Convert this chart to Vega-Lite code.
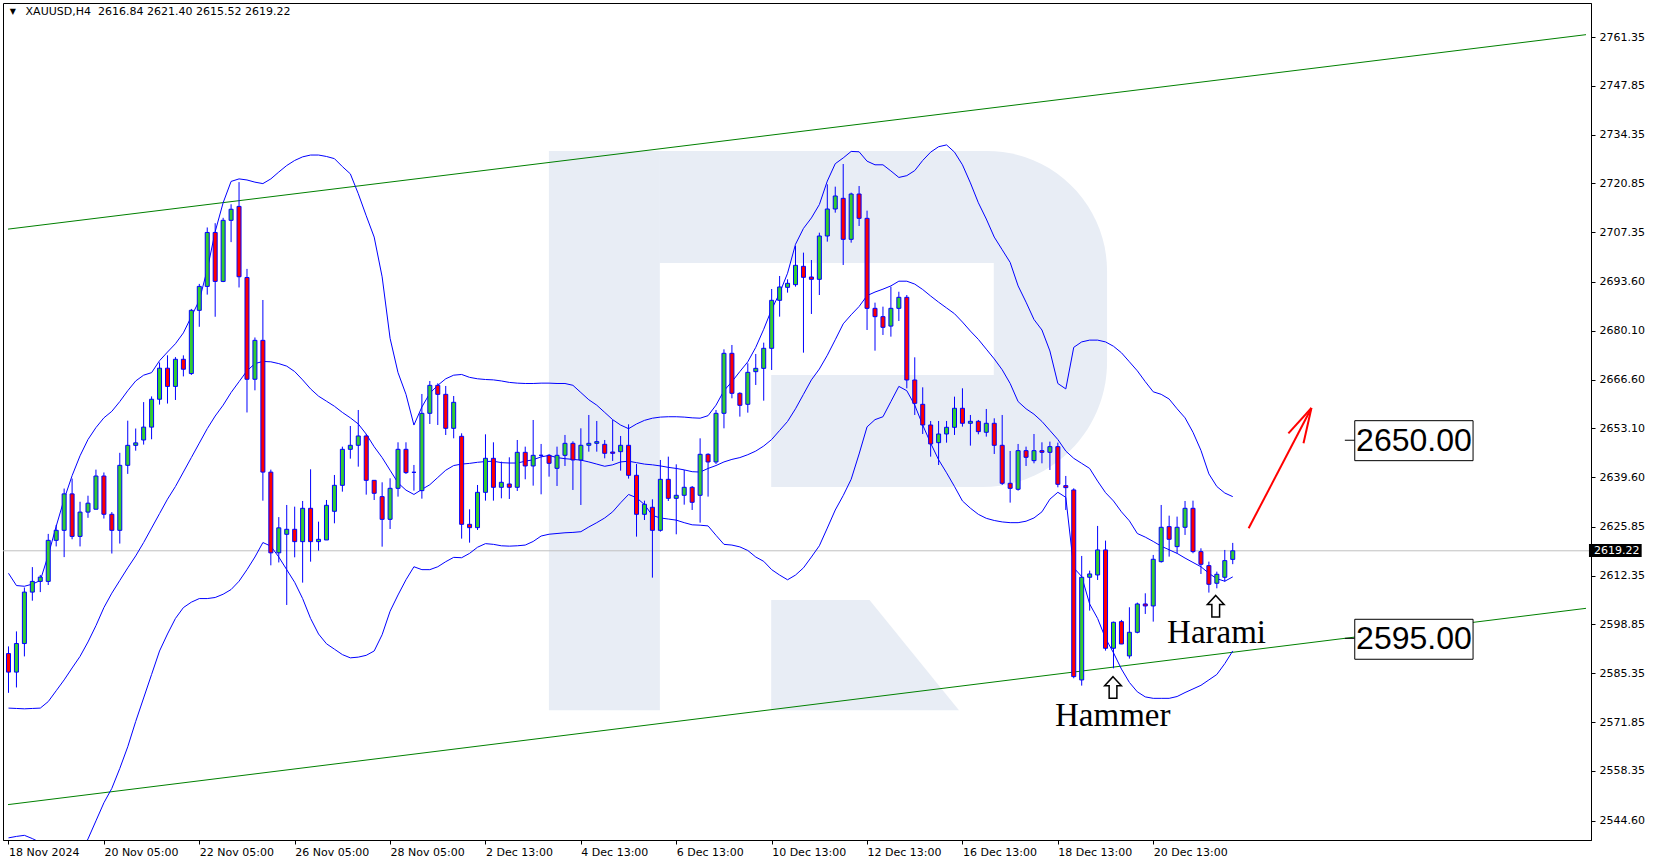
{
"$schema": "https://vega.github.io/schema/vega-lite/v6.json",
"width": 1588, "height": 837,
"autosize": {"type": "none"},
"padding": {"left": 3, "top": 3, "right": 65, "bottom": 24},
"background": "#ffffff",
"config": {
  "view": {"stroke": "#000000", "strokeWidth": 1},
  "axis": {"grid": false, "labelFont": "DejaVu Sans", "labelFontSize": 11, "labelColor": "#000000", "tickColor": "#000000", "domainColor": "#000000", "domainWidth": 1, "tickWidth": 1}
},
"datasets": {
"candles": [
{"i":0,"o":2590.79,"h":2592.77,"l":2579.92,"c":2585.66},
{"i":1,"o":2585.66,"h":2596.92,"l":2581.41,"c":2593.56},
{"i":2,"o":2593.56,"h":2609.07,"l":2590.00,"c":2607.79},
{"i":3,"o":2607.79,"h":2614.70,"l":2605.41,"c":2610.75},
{"i":4,"o":2610.75,"h":2612.53,"l":2607.79,"c":2611.94},
{"i":5,"o":2610.75,"h":2623.89,"l":2609.76,"c":2622.11},
{"i":6,"o":2622.11,"h":2626.36,"l":2620.43,"c":2624.88},
{"i":7,"o":2624.88,"h":2636.44,"l":2617.47,"c":2634.96},
{"i":8,"o":2634.96,"h":2639.20,"l":2622.41,"c":2623.20},
{"i":9,"o":2623.20,"h":2632.78,"l":2620.43,"c":2629.92},
{"i":10,"o":2629.92,"h":2634.46,"l":2628.34,"c":2632.39},
{"i":11,"o":2630.71,"h":2641.67,"l":2630.71,"c":2639.90},
{"i":12,"o":2639.90,"h":2640.88,"l":2628.14,"c":2629.32},
{"i":13,"o":2629.32,"h":2629.92,"l":2618.46,"c":2624.88},
{"i":14,"o":2624.88,"h":2646.32,"l":2621.22,"c":2642.86},
{"i":15,"o":2642.86,"h":2655.21,"l":2640.49,"c":2648.39},
{"i":16,"o":2648.39,"h":2653.04,"l":2646.91,"c":2649.08},
{"i":17,"o":2649.87,"h":2660.35,"l":2648.59,"c":2653.43},
{"i":18,"o":2653.43,"h":2661.93,"l":2650.07,"c":2661.14},
{"i":19,"o":2661.14,"h":2671.31,"l":2659.66,"c":2669.73},
{"i":20,"o":2669.73,"h":2673.29,"l":2659.95,"c":2664.69},
{"i":21,"o":2664.69,"h":2672.80,"l":2660.94,"c":2672.20},
{"i":22,"o":2672.20,"h":2673.29,"l":2667.46,"c":2669.44},
{"i":23,"o":2668.25,"h":2686.13,"l":2667.86,"c":2685.74},
{"i":24,"o":2685.74,"h":2693.05,"l":2681.19,"c":2692.36},
{"i":25,"o":2692.36,"h":2708.66,"l":2690.09,"c":2707.28},
{"i":26,"o":2707.28,"h":2709.85,"l":2683.96,"c":2693.74},
{"i":27,"o":2693.74,"h":2711.33,"l":2693.54,"c":2710.64},
{"i":28,"o":2710.64,"h":2715.08,"l":2704.61,"c":2713.70},
{"i":29,"o":2714.49,"h":2721.21,"l":2692.06,"c":2695.03},
{"i":30,"o":2694.83,"h":2697.20,"l":2657.48,"c":2666.67},
{"i":31,"o":2666.67,"h":2678.23,"l":2663.61,"c":2677.44},
{"i":32,"o":2677.44,"h":2688.60,"l":2633.08,"c":2640.98},
{"i":33,"o":2640.98,"h":2641.67,"l":2615.20,"c":2618.65},
{"i":34,"o":2618.65,"h":2628.54,"l":2615.99,"c":2625.57},
{"i":35,"o":2623.78,"h":2631.89,"l":2604.23,"c":2625.16},
{"i":36,"o":2625.16,"h":2631.43,"l":2617.41,"c":2621.75},
{"i":37,"o":2621.75,"h":2633.00,"l":2610.41,"c":2630.97},
{"i":38,"o":2630.97,"h":2641.76,"l":2616.21,"c":2621.75},
{"i":39,"o":2621.75,"h":2627.28,"l":2619.26,"c":2622.39},
{"i":40,"o":2622.21,"h":2633.27,"l":2622.21,"c":2631.80},
{"i":41,"o":2630.14,"h":2640.19,"l":2626.82,"c":2637.33},
{"i":42,"o":2637.33,"h":2648.03,"l":2635.58,"c":2647.29},
{"i":43,"o":2647.29,"h":2653.74,"l":2644.71,"c":2648.40},
{"i":44,"o":2648.40,"h":2658.17,"l":2642.49,"c":2650.98},
{"i":45,"o":2650.98,"h":2651.50,"l":2634.75,"c":2638.71},
{"i":46,"o":2638.71,"h":2638.71,"l":2633.27,"c":2635.12},
{"i":47,"o":2634.20,"h":2638.16,"l":2620.36,"c":2627.92},
{"i":48,"o":2627.92,"h":2639.27,"l":2625.25,"c":2636.50},
{"i":49,"o":2636.50,"h":2649.23,"l":2634.20,"c":2647.29},
{"i":50,"o":2647.29,"h":2649.23,"l":2640.47,"c":2640.84},
{"i":51,"o":2640.93,"h":2642.96,"l":2635.86,"c":2640.93},
{"i":52,"o":2635.86,"h":2662.60,"l":2633.64,"c":2657.25},
{"i":53,"o":2657.25,"h":2666.19,"l":2654.30,"c":2664.99},
{"i":54,"o":2664.99,"h":2665.55,"l":2654.02,"c":2662.50},
{"i":55,"o":2662.50,"h":2664.81,"l":2651.25,"c":2653.10},
{"i":56,"o":2653.10,"h":2662.04,"l":2650.33,"c":2660.29},
{"i":57,"o":2650.89,"h":2651.72,"l":2622.58,"c":2626.54},
{"i":58,"o":2626.54,"h":2630.69,"l":2621.47,"c":2625.62},
{"i":59,"o":2625.62,"h":2637.42,"l":2624.98,"c":2635.39},
{"i":60,"o":2635.39,"h":2651.44,"l":2633.09,"c":2644.80},
{"i":61,"o":2644.80,"h":2649.23,"l":2633.09,"c":2636.78},
{"i":62,"o":2636.78,"h":2643.88,"l":2633.73,"c":2638.16},
{"i":63,"o":2637.70,"h":2645.08,"l":2633.55,"c":2636.78},
{"i":64,"o":2636.78,"h":2649.87,"l":2635.76,"c":2646.46},
{"i":65,"o":2646.46,"h":2648.03,"l":2639.00,"c":2642.68},
{"i":66,"o":2642.68,"h":2655.40,"l":2637.24,"c":2645.63},
{"i":67,"o":2645.63,"h":2648.77,"l":2634.84,"c":2645.63},
{"i":68,"o":2645.63,"h":2646.00,"l":2639.73,"c":2643.42},
{"i":69,"o":2642.03,"h":2648.03,"l":2637.15,"c":2645.63},
{"i":70,"o":2645.63,"h":2651.26,"l":2642.68,"c":2648.95},
{"i":71,"o":2648.95,"h":2649.50,"l":2636.04,"c":2644.34},
{"i":72,"o":2644.34,"h":2653.10,"l":2631.89,"c":2648.40},
{"i":73,"o":2648.40,"h":2656.79,"l":2646.64,"c":2648.95},
{"i":74,"o":2648.95,"h":2655.13,"l":2646.64,"c":2649.41},
{"i":75,"o":2648.67,"h":2649.87,"l":2644.80,"c":2646.18},
{"i":76,"o":2646.55,"h":2655.40,"l":2644.07,"c":2646.18},
{"i":77,"o":2646.64,"h":2650.98,"l":2641.39,"c":2648.40},
{"i":78,"o":2648.40,"h":2654.21,"l":2639.18,"c":2640.10},
{"i":79,"o":2640.10,"h":2643.23,"l":2623.13,"c":2629.31},
{"i":80,"o":2629.31,"h":2633.09,"l":2627.74,"c":2632.08},
{"i":81,"o":2631.25,"h":2633.46,"l":2611.79,"c":2624.88},
{"i":82,"o":2624.88,"h":2644.34,"l":2624.51,"c":2638.99},
{"i":83,"o":2638.99,"h":2645.26,"l":2632.99,"c":2633.73},
{"i":84,"o":2633.73,"h":2643.14,"l":2623.78,"c":2634.57},
{"i":85,"o":2634.57,"h":2641.57,"l":2631.98,"c":2636.78},
{"i":86,"o":2636.78,"h":2637.15,"l":2630.51,"c":2632.63},
{"i":87,"o":2634.57,"h":2650.33,"l":2627.00,"c":2645.91},
{"i":88,"o":2645.91,"h":2646.18,"l":2634.20,"c":2643.79},
{"i":89,"o":2643.79,"h":2658.17,"l":2643.23,"c":2657.25},
{"i":90,"o":2657.25,"h":2674.95,"l":2653.10,"c":2673.85},
{"i":91,"o":2673.85,"h":2676.15,"l":2661.40,"c":2662.78},
{"i":92,"o":2662.78,"h":2663.06,"l":2656.33,"c":2659.46},
{"i":93,"o":2659.74,"h":2671.08,"l":2657.43,"c":2668.59},
{"i":94,"o":2668.77,"h":2673.66,"l":2665.09,"c":2669.69},
{"i":95,"o":2669.69,"h":2676.80,"l":2660.75,"c":2675.23},
{"i":96,"o":2675.23,"h":2691.64,"l":2669.24,"c":2688.51},
{"i":97,"o":2688.51,"h":2695.24,"l":2683.99,"c":2692.20},
{"i":98,"o":2692.10,"h":2694.32,"l":2690.63,"c":2693.21},
{"i":99,"o":2692.84,"h":2703.54,"l":2692.29,"c":2698.19},
{"i":100,"o":2697.91,"h":2701.70,"l":2674.03,"c":2694.87},
{"i":101,"o":2694.96,"h":2699.66,"l":2684.73,"c":2694.32},
{"i":102,"o":2694.32,"h":2707.22,"l":2689.98,"c":2706.30},
{"i":103,"o":2706.30,"h":2720.60,"l":2704.74,"c":2713.77},
{"i":104,"o":2713.77,"h":2719.95,"l":2712.76,"c":2717.37},
{"i":105,"o":2716.72,"h":2726.22,"l":2698.28,"c":2705.38},
{"i":106,"o":2705.38,"h":2718.29,"l":2704.46,"c":2717.92},
{"i":107,"o":2717.92,"h":2720.13,"l":2709.07,"c":2711.19},
{"i":108,"o":2711.19,"h":2713.31,"l":2680.30,"c":2686.29},
{"i":109,"o":2686.29,"h":2687.86,"l":2674.58,"c":2683.99},
{"i":110,"o":2683.99,"h":2686.76,"l":2678.92,"c":2681.04},
{"i":111,"o":2681.38,"h":2692.29,"l":2678.46,"c":2686.29},
{"i":112,"o":2686.29,"h":2690.88,"l":2682.79,"c":2689.34},
{"i":113,"o":2689.34,"h":2689.98,"l":2664.17,"c":2666.47},
{"i":114,"o":2666.47,"h":2672.74,"l":2656.79,"c":2660.01},
{"i":115,"o":2659.74,"h":2664.44,"l":2651.53,"c":2654.02},
{"i":116,"o":2654.02,"h":2655.13,"l":2645.26,"c":2648.77},
{"i":117,"o":2649.13,"h":2655.13,"l":2642.95,"c":2651.53},
{"i":118,"o":2651.53,"h":2655.13,"l":2649.13,"c":2653.38},
{"i":119,"o":2653.38,"h":2661.86,"l":2651.26,"c":2658.64},
{"i":120,"o":2658.64,"h":2664.17,"l":2653.57,"c":2654.49},
{"i":121,"o":2654.49,"h":2656.79,"l":2648.31,"c":2655.04},
{"i":122,"o":2655.04,"h":2655.41,"l":2651.44,"c":2652.18},
{"i":123,"o":2652.00,"h":2658.45,"l":2650.80,"c":2654.49},
{"i":124,"o":2654.49,"h":2655.87,"l":2646.00,"c":2648.40},
{"i":125,"o":2648.40,"h":2656.79,"l":2637.43,"c":2637.89},
{"i":126,"o":2637.89,"h":2646.83,"l":2632.54,"c":2636.50},
{"i":127,"o":2636.23,"h":2648.77,"l":2635.86,"c":2646.92},
{"i":128,"o":2646.92,"h":2648.03,"l":2642.68,"c":2645.08},
{"i":129,"o":2644.16,"h":2651.53,"l":2643.42,"c":2646.92},
{"i":130,"o":2646.92,"h":2649.23,"l":2643.42,"c":2646.46},
{"i":131,"o":2646.46,"h":2649.42,"l":2641.58,"c":2648.03},
{"i":132,"o":2648.03,"h":2649.14,"l":2636.78,"c":2637.61},
{"i":133,"o":2637.24,"h":2639.92,"l":2630.51,"c":2636.69},
{"i":134,"o":2636.05,"h":2636.50,"l":2583.95,"c":2584.41},
{"i":135,"o":2583.49,"h":2617.79,"l":2581.92,"c":2611.89},
{"i":136,"o":2611.89,"h":2613.73,"l":2602.67,"c":2612.81},
{"i":137,"o":2612.53,"h":2626.09,"l":2611.15,"c":2619.45},
{"i":138,"o":2619.45,"h":2622.03,"l":2591.60,"c":2592.25},
{"i":139,"o":2592.25,"h":2599.62,"l":2586.71,"c":2599.44},
{"i":140,"o":2599.62,"h":2600.09,"l":2593.40,"c":2593.44},
{"i":141,"o":2590.13,"h":2603.59,"l":2589.39,"c":2596.67},
{"i":142,"o":2596.67,"h":2604.88,"l":2596.39,"c":2604.51},
{"i":143,"o":2604.51,"h":2607.46,"l":2601.74,"c":2603.96},
{"i":144,"o":2603.96,"h":2618.07,"l":2599.62,"c":2616.87},
{"i":145,"o":2616.22,"h":2631.89,"l":2615.94,"c":2625.72},
{"i":146,"o":2625.90,"h":2628.94,"l":2617.60,"c":2622.40},
{"i":147,"o":2620.37,"h":2628.67,"l":2618.53,"c":2625.72},
{"i":148,"o":2625.72,"h":2633.00,"l":2623.60,"c":2630.97},
{"i":149,"o":2630.97,"h":2633.09,"l":2618.53,"c":2618.99},
{"i":150,"o":2618.99,"h":2619.91,"l":2612.81,"c":2615.48},
{"i":151,"o":2615.11,"h":2616.22,"l":2607.65,"c":2609.95},
{"i":152,"o":2610.23,"h":2613.45,"l":2608.84,"c":2612.72},
{"i":153,"o":2611.89,"h":2619.45,"l":2610.69,"c":2616.50},
{"i":154,"o":2616.84,"h":2621.40,"l":2615.52,"c":2619.22}
],
"bands": [
{"i":0,"u":2613.0,"m":2575.7,"l":2539.8},{"i":1,"u":2609.6,"m":2575.6,"l":2540.2},{"i":2,"u":2609.4,"m":2575.5,"l":2540.5},{"i":3,"u":2610.0,"m":2575.6,"l":2539.6},{"i":4,"u":2611.0,"m":2575.7,"l":2538.5},{"i":5,"u":2618.0,"m":2577.5,"l":2536.5},{"i":6,"u":2626.0,"m":2580.5,"l":2534.5},{"i":7,"u":2633.5,"m":2583.5,"l":2533.5},{"i":8,"u":2640.0,"m":2586.8,"l":2533.8},{"i":9,"u":2645.5,"m":2590.0,"l":2535.5},
{"i":10,"u":2650.0,"m":2594.0,"l":2539.5},{"i":11,"u":2653.3,"m":2598.5,"l":2544.5},{"i":12,"u":2656.0,"m":2603.5,"l":2549.5},{"i":13,"u":2657.8,"m":2607.5,"l":2553.5},{"i":14,"u":2660.5,"m":2611.0,"l":2559.0},{"i":15,"u":2663.5,"m":2614.5,"l":2565.0},{"i":16,"u":2666.2,"m":2617.8,"l":2572.0},{"i":17,"u":2667.8,"m":2621.5,"l":2578.5},{"i":18,"u":2668.5,"m":2625.5,"l":2585.0},{"i":19,"u":2671.8,"m":2629.5,"l":2591.5},
{"i":20,"u":2674.2,"m":2633.5,"l":2596.2},{"i":21,"u":2676.5,"m":2637.0,"l":2600.5},{"i":22,"u":2679.5,"m":2641.0,"l":2603.5},{"i":23,"u":2684.0,"m":2645.0,"l":2605.0},{"i":24,"u":2688.5,"m":2649.0,"l":2606.0},{"i":25,"u":2697.0,"m":2653.0,"l":2606.0},{"i":26,"u":2707.5,"m":2656.5,"l":2606.3},{"i":27,"u":2715.5,"m":2659.5,"l":2607.2},{"i":28,"u":2721.4,"m":2663.0,"l":2608.5},{"i":29,"u":2722.1,"m":2666.0,"l":2610.8},
{"i":30,"u":2721.8,"m":2669.0,"l":2614.0},{"i":31,"u":2721.2,"m":2671.0,"l":2617.5},{"i":32,"u":2720.8,"m":2671.6,"l":2621.5},{"i":33,"u":2722.1,"m":2671.5,"l":2620.5},{"i":34,"u":2724.0,"m":2671.0,"l":2617.5},{"i":35,"u":2725.8,"m":2670.3,"l":2614.0},{"i":36,"u":2727.2,"m":2668.8,"l":2610.5},{"i":37,"u":2728.2,"m":2666.5,"l":2606.0},{"i":38,"u":2728.7,"m":2664.0,"l":2600.5},{"i":39,"u":2728.7,"m":2662.0,"l":2596.2},
{"i":40,"u":2728.3,"m":2660.6,"l":2593.5},{"i":41,"u":2727.7,"m":2659.2,"l":2592.0},{"i":42,"u":2725.5,"m":2657.5,"l":2590.5},{"i":43,"u":2723.5,"m":2656.0,"l":2589.6},{"i":44,"u":2718.0,"m":2654.3,"l":2589.8},{"i":45,"u":2711.9,"m":2651.5,"l":2590.3},{"i":46,"u":2706.0,"m":2648.0,"l":2591.5},{"i":47,"u":2695.0,"m":2645.0,"l":2596.0},{"i":48,"u":2678.0,"m":2641.5,"l":2602.5},{"i":49,"u":2668.5,"m":2638.0,"l":2607.0},
{"i":50,"u":2662.5,"m":2636.0,"l":2611.2},{"i":51,"u":2654.0,"m":2634.8,"l":2614.8},{"i":52,"u":2659.0,"m":2636.2,"l":2614.0},{"i":53,"u":2662.8,"m":2637.5,"l":2614.0},{"i":54,"u":2665.0,"m":2639.5,"l":2614.8},{"i":55,"u":2666.8,"m":2641.5,"l":2616.2},{"i":56,"u":2667.8,"m":2642.8,"l":2617.4},{"i":57,"u":2668.0,"m":2643.2,"l":2617.3},{"i":58,"u":2667.2,"m":2643.4,"l":2618.5},{"i":59,"u":2666.8,"m":2643.7,"l":2620.2},
{"i":60,"u":2666.6,"m":2643.9,"l":2621.2},{"i":61,"u":2666.5,"m":2644.0,"l":2621.0},{"i":62,"u":2666.2,"m":2643.6,"l":2620.6},{"i":63,"u":2665.8,"m":2643.5,"l":2620.5},{"i":64,"u":2665.6,"m":2643.5,"l":2620.6},{"i":65,"u":2665.5,"m":2644.0,"l":2620.8},{"i":66,"u":2665.5,"m":2644.4,"l":2621.8},{"i":67,"u":2665.6,"m":2645.2,"l":2623.3},{"i":68,"u":2665.6,"m":2645.6,"l":2623.8},{"i":69,"u":2665.5,"m":2645.0,"l":2624.0},
{"i":70,"u":2665.5,"m":2644.7,"l":2624.2},{"i":71,"u":2665.0,"m":2644.5,"l":2624.3},{"i":72,"u":2663.0,"m":2644.3,"l":2624.5},{"i":73,"u":2661.0,"m":2643.8,"l":2625.8},{"i":74,"u":2659.5,"m":2643.2,"l":2627.0},{"i":75,"u":2657.5,"m":2642.6,"l":2628.3},{"i":76,"u":2655.5,"m":2643.0,"l":2630.0},{"i":77,"u":2654.0,"m":2643.8,"l":2632.5},{"i":78,"u":2653.0,"m":2644.0,"l":2634.8},{"i":79,"u":2654.3,"m":2643.6,"l":2633.9},
{"i":80,"u":2655.3,"m":2643.2,"l":2632.0},{"i":81,"u":2655.9,"m":2643.0,"l":2629.0},{"i":82,"u":2656.2,"m":2642.7,"l":2628.3},{"i":83,"u":2656.3,"m":2642.3,"l":2628.0},{"i":84,"u":2656.3,"m":2642.0,"l":2627.7},{"i":85,"u":2656.2,"m":2641.6,"l":2627.0},{"i":86,"u":2656.0,"m":2641.1,"l":2626.4},{"i":87,"u":2655.9,"m":2641.0,"l":2626.3},{"i":88,"u":2656.6,"m":2642.0,"l":2626.1},{"i":89,"u":2659.5,"m":2642.8,"l":2623.5},
{"i":90,"u":2663.5,"m":2643.8,"l":2621.0},{"i":91,"u":2666.0,"m":2644.5,"l":2620.8},{"i":92,"u":2668.8,"m":2645.0,"l":2620.3},{"i":93,"u":2671.5,"m":2645.8,"l":2619.3},{"i":94,"u":2675.5,"m":2646.8,"l":2617.5},{"i":95,"u":2680.5,"m":2648.2,"l":2616.3},{"i":96,"u":2686.0,"m":2650.0,"l":2614.0},{"i":97,"u":2690.5,"m":2652.5,"l":2612.5},{"i":98,"u":2696.0,"m":2655.0,"l":2611.2},{"i":99,"u":2704.0,"m":2658.5,"l":2612.5},
{"i":100,"u":2708.4,"m":2662.5,"l":2614.5},{"i":101,"u":2711.3,"m":2666.5,"l":2617.5},{"i":102,"u":2715.0,"m":2669.5,"l":2620.6},{"i":103,"u":2721.5,"m":2673.3,"l":2625.5},{"i":104,"u":2726.3,"m":2677.6,"l":2630.5},{"i":105,"u":2727.9,"m":2682.0,"l":2634.5},{"i":106,"u":2729.7,"m":2684.5,"l":2639.0},{"i":107,"u":2729.6,"m":2686.8,"l":2646.0},{"i":108,"u":2727.0,"m":2689.8,"l":2653.5},{"i":109,"u":2726.0,"m":2690.8,"l":2655.5},
{"i":110,"u":2726.0,"m":2691.6,"l":2656.3},{"i":111,"u":2724.3,"m":2692.5,"l":2660.5},{"i":112,"u":2722.5,"m":2693.8,"l":2664.7},{"i":113,"u":2723.0,"m":2693.8,"l":2663.5},{"i":114,"u":2724.4,"m":2693.0,"l":2659.5},{"i":115,"u":2727.2,"m":2691.5,"l":2654.0},{"i":116,"u":2729.5,"m":2689.7,"l":2649.0},{"i":117,"u":2731.0,"m":2688.0,"l":2644.4},{"i":118,"u":2731.5,"m":2686.4,"l":2640.8},{"i":119,"u":2729.5,"m":2684.8,"l":2637.0},
{"i":120,"u":2726.0,"m":2682.5,"l":2633.0},{"i":121,"u":2721.0,"m":2680.0,"l":2631.0},{"i":122,"u":2715.5,"m":2677.7,"l":2629.3},{"i":123,"u":2711.0,"m":2675.0,"l":2628.2},{"i":124,"u":2706.0,"m":2672.3,"l":2627.6},{"i":125,"u":2702.5,"m":2669.3,"l":2627.2},{"i":126,"u":2699.0,"m":2665.5,"l":2627.0},{"i":127,"u":2692.5,"m":2660.5,"l":2627.0},{"i":128,"u":2688.0,"m":2658.5,"l":2627.4},{"i":129,"u":2683.2,"m":2657.0,"l":2628.3},
{"i":130,"u":2680.3,"m":2655.0,"l":2630.0},{"i":131,"u":2674.5,"m":2652.5,"l":2633.5},{"i":132,"u":2665.5,"m":2650.0,"l":2635.4},{"i":133,"u":2664.0,"m":2646.8,"l":2634.0},{"i":134,"u":2675.5,"m":2644.8,"l":2614.5},{"i":135,"u":2677.0,"m":2643.4,"l":2612.1},{"i":136,"u":2677.5,"m":2642.0,"l":2604.5},{"i":137,"u":2677.5,"m":2638.5,"l":2600.5},{"i":138,"u":2677.0,"m":2635.3,"l":2595.0},{"i":139,"u":2675.8,"m":2633.0,"l":2591.0},
{"i":140,"u":2674.0,"m":2630.0,"l":2586.5},{"i":141,"u":2671.5,"m":2627.5,"l":2582.8},{"i":142,"u":2669.0,"m":2624.0,"l":2580.2},{"i":143,"u":2666.0,"m":2623.0,"l":2578.8},{"i":144,"u":2663.2,"m":2621.8,"l":2578.4},{"i":145,"u":2662.5,"m":2620.5,"l":2578.4},{"i":146,"u":2661.2,"m":2619.5,"l":2578.4},{"i":147,"u":2658.5,"m":2618.5,"l":2578.9},{"i":148,"u":2656.0,"m":2617.2,"l":2580.0},{"i":149,"u":2652.0,"m":2616.0,"l":2581.0},
{"i":150,"u":2647.0,"m":2614.8,"l":2582.0},{"i":151,"u":2640.5,"m":2613.0,"l":2583.5},{"i":152,"u":2637.0,"m":2611.5,"l":2585.0},{"i":153,"u":2635.2,"m":2610.8,"l":2588.0},{"i":154,"u":2634.2,"m":2612.0,"l":2591.5}
]
},
"layer": [
{"data": {"values": [{"x1": 67.98, "x2": 81.94, "y1": 2575.08, "y2": 2729.82}]},
 "mark": {"type": "rect", "color": "#e8edf5"},
 "encoding": {
  "x": {"field": "x1", "type": "quantitative", "scale": {"domain": [-0.0625, 198.4375], "nice": false, "zero": false}, "axis": {"orient": "bottom", "values": [0,12,24,36,48,60,72,84,96,108,120,132,144], "labelExpr": "datum.value == 0 ? '18 Nov 2024' : datum.value == 12 ? '20 Nov 05:00' : datum.value == 24 ? '22 Nov 05:00' : datum.value == 36 ? '26 Nov 05:00' : datum.value == 48 ? '28 Nov 05:00' : datum.value == 60 ? '2 Dec 13:00' : datum.value == 72 ? '4 Dec 13:00' : datum.value == 84 ? '6 Dec 13:00' : datum.value == 96 ? '10 Dec 13:00' : datum.value == 108 ? '12 Dec 13:00' : datum.value == 120 ? '16 Dec 13:00' : datum.value == 132 ? '18 Dec 13:00' : '20 Dec 13:00'", "labelAlign": "left", "labelBaseline": "top", "labelPadding": 2, "tickSize": 4, "labelFlush": false, "labelOverlap": false, "title": null}},
  "x2": {"field": "x2"},
  "y": {"field": "y1", "type": "quantitative", "scale": {"domain": [2539.21, 2770.76], "nice": false, "zero": false}, "axis": {"orient": "right", "values": [2544.60, 2558.35, 2571.85, 2585.35, 2598.85, 2612.35, 2625.85, 2639.60, 2653.10, 2666.60, 2680.10, 2693.60, 2707.35, 2720.85, 2734.35, 2747.85, 2761.35], "format": ".2f", "tickSize": 4, "labelPadding": 4, "labelAlign": "left", "labelBaseline": "middle", "labelOverlap": false, "labelFlush": false, "title": null}},
  "y2": {"field": "y2"}}},
{"data": {"values": [{"x1": 81.9, "x2": 138.19, "y1": 2636.87, "y2": 2729.82}]},
 "mark": {"type": "rect", "color": "#e8edf5", "cornerRadiusTopRight": 120, "cornerRadiusBottomRight": 125},
 "encoding": {
  "x": {"field": "x1", "type": "quantitative", "scale": {"domain": [-0.0625, 198.4375], "nice": false, "zero": false}, "axis": {"orient": "bottom", "values": [0,12,24,36,48,60,72,84,96,108,120,132,144], "labelExpr": "datum.value == 0 ? '18 Nov 2024' : datum.value == 12 ? '20 Nov 05:00' : datum.value == 24 ? '22 Nov 05:00' : datum.value == 36 ? '26 Nov 05:00' : datum.value == 48 ? '28 Nov 05:00' : datum.value == 60 ? '2 Dec 13:00' : datum.value == 72 ? '4 Dec 13:00' : datum.value == 84 ? '6 Dec 13:00' : datum.value == 96 ? '10 Dec 13:00' : datum.value == 108 ? '12 Dec 13:00' : datum.value == 120 ? '16 Dec 13:00' : datum.value == 132 ? '18 Dec 13:00' : '20 Dec 13:00'", "labelAlign": "left", "labelBaseline": "top", "labelPadding": 2, "tickSize": 4, "labelFlush": false, "labelOverlap": false, "title": null}},
  "x2": {"field": "x2"},
  "y": {"field": "y1", "type": "quantitative", "scale": {"domain": [2539.21, 2770.76], "nice": false, "zero": false}, "axis": {"orient": "right", "values": [2544.60, 2558.35, 2571.85, 2585.35, 2598.85, 2612.35, 2625.85, 2639.60, 2653.10, 2666.60, 2680.10, 2693.60, 2707.35, 2720.85, 2734.35, 2747.85, 2761.35], "format": ".2f", "tickSize": 4, "labelPadding": 4, "labelAlign": "left", "labelBaseline": "middle", "labelOverlap": false, "labelFlush": false, "title": null}},
  "y2": {"field": "y2"}}},
{"data": {"values": [{"x1": 81.94, "x2": 123.94, "y1": 2667.86, "y2": 2698.84}, {"x1": 81.94, "x2": 95.94, "y1": 2636.5, "y2": 2668.0}]},
 "mark": {"type": "rect", "color": "#ffffff"},
 "encoding": {
  "x": {"field": "x1", "type": "quantitative", "scale": {"domain": [-0.0625, 198.4375], "nice": false, "zero": false}, "axis": {"orient": "bottom", "values": [0,12,24,36,48,60,72,84,96,108,120,132,144], "labelExpr": "datum.value == 0 ? '18 Nov 2024' : datum.value == 12 ? '20 Nov 05:00' : datum.value == 24 ? '22 Nov 05:00' : datum.value == 36 ? '26 Nov 05:00' : datum.value == 48 ? '28 Nov 05:00' : datum.value == 60 ? '2 Dec 13:00' : datum.value == 72 ? '4 Dec 13:00' : datum.value == 84 ? '6 Dec 13:00' : datum.value == 96 ? '10 Dec 13:00' : datum.value == 108 ? '12 Dec 13:00' : datum.value == 120 ? '16 Dec 13:00' : datum.value == 132 ? '18 Dec 13:00' : '20 Dec 13:00'", "labelAlign": "left", "labelBaseline": "top", "labelPadding": 2, "tickSize": 4, "labelFlush": false, "labelOverlap": false, "title": null}},
  "x2": {"field": "x2"},
  "y": {"field": "y1", "type": "quantitative", "scale": {"domain": [2539.21, 2770.76], "nice": false, "zero": false}, "axis": {"orient": "right", "values": [2544.60, 2558.35, 2571.85, 2585.35, 2598.85, 2612.35, 2625.85, 2639.60, 2653.10, 2666.60, 2680.10, 2693.60, 2707.35, 2720.85, 2734.35, 2747.85, 2761.35], "format": ".2f", "tickSize": 4, "labelPadding": 4, "labelAlign": "left", "labelBaseline": "middle", "labelOverlap": false, "labelFlush": false, "title": null}},
  "y2": {"field": "y2"}}},
{"data": {"values": [{"x": 95.94, "t": 2605.61, "b": 2575.08}, {"x": 108.31, "t": 2605.61, "b": 2575.08}, {"x": 119.56, "t": 2575.08, "b": 2575.08}]},
 "mark": {"type": "area", "color": "#e8edf5", "orient": "vertical"},
 "encoding": {
  "x": {"field": "x", "type": "quantitative", "scale": {"domain": [-0.0625, 198.4375], "nice": false, "zero": false}, "axis": {"orient": "bottom", "values": [0,12,24,36,48,60,72,84,96,108,120,132,144], "labelExpr": "datum.value == 0 ? '18 Nov 2024' : datum.value == 12 ? '20 Nov 05:00' : datum.value == 24 ? '22 Nov 05:00' : datum.value == 36 ? '26 Nov 05:00' : datum.value == 48 ? '28 Nov 05:00' : datum.value == 60 ? '2 Dec 13:00' : datum.value == 72 ? '4 Dec 13:00' : datum.value == 84 ? '6 Dec 13:00' : datum.value == 96 ? '10 Dec 13:00' : datum.value == 108 ? '12 Dec 13:00' : datum.value == 120 ? '16 Dec 13:00' : datum.value == 132 ? '18 Dec 13:00' : '20 Dec 13:00'", "labelAlign": "left", "labelBaseline": "top", "labelPadding": 2, "tickSize": 4, "labelFlush": false, "labelOverlap": false, "title": null}},
  "y": {"field": "t", "type": "quantitative", "scale": {"domain": [2539.21, 2770.76], "nice": false, "zero": false}, "axis": {"orient": "right", "values": [2544.60, 2558.35, 2571.85, 2585.35, 2598.85, 2612.35, 2625.85, 2639.60, 2653.10, 2666.60, 2680.10, 2693.60, 2707.35, 2720.85, 2734.35, 2747.85, 2761.35], "format": ".2f", "tickSize": 4, "labelPadding": 4, "labelAlign": "left", "labelBaseline": "middle", "labelOverlap": false, "labelFlush": false, "title": null}},
  "y2": {"field": "b"}}},
{"data": {"values": [{"v": 2619.22}]},
 "mark": {"type": "rule", "color": "#c0c0c0", "strokeWidth": 1},
 "encoding": {
  "y": {"field": "v", "type": "quantitative", "scale": {"domain": [2539.21, 2770.76], "nice": false, "zero": false}, "axis": {"orient": "right", "values": [2544.60, 2558.35, 2571.85, 2585.35, 2598.85, 2612.35, 2625.85, 2639.60, 2653.10, 2666.60, 2680.10, 2693.60, 2707.35, 2720.85, 2734.35, 2747.85, 2761.35], "format": ".2f", "tickSize": 4, "labelPadding": 4, "labelAlign": "left", "labelBaseline": "middle", "labelOverlap": false, "labelFlush": false, "title": null}}}},
{"data": {"values": [{"k": "a", "x": -0.0625, "v": 2708.2}, {"k": "a", "x": 198.4375, "v": 2762.0}, {"k": "b", "x": -0.0625, "v": 2549.0}, {"k": "b", "x": 198.4375, "v": 2603.3}]},
 "mark": {"type": "line", "color": "#008000", "strokeWidth": 1, "clip": true},
 "encoding": {
  "x": {"field": "x", "type": "quantitative", "scale": {"domain": [-0.0625, 198.4375], "nice": false, "zero": false}, "axis": {"orient": "bottom", "values": [0,12,24,36,48,60,72,84,96,108,120,132,144], "labelExpr": "datum.value == 0 ? '18 Nov 2024' : datum.value == 12 ? '20 Nov 05:00' : datum.value == 24 ? '22 Nov 05:00' : datum.value == 36 ? '26 Nov 05:00' : datum.value == 48 ? '28 Nov 05:00' : datum.value == 60 ? '2 Dec 13:00' : datum.value == 72 ? '4 Dec 13:00' : datum.value == 84 ? '6 Dec 13:00' : datum.value == 96 ? '10 Dec 13:00' : datum.value == 108 ? '12 Dec 13:00' : datum.value == 120 ? '16 Dec 13:00' : datum.value == 132 ? '18 Dec 13:00' : '20 Dec 13:00'", "labelAlign": "left", "labelBaseline": "top", "labelPadding": 2, "tickSize": 4, "labelFlush": false, "labelOverlap": false, "title": null}},
  "y": {"field": "v", "type": "quantitative", "scale": {"domain": [2539.21, 2770.76], "nice": false, "zero": false}, "axis": {"orient": "right", "values": [2544.60, 2558.35, 2571.85, 2585.35, 2598.85, 2612.35, 2625.85, 2639.60, 2653.10, 2666.60, 2680.10, 2693.60, 2707.35, 2720.85, 2734.35, 2747.85, 2761.35], "format": ".2f", "tickSize": 4, "labelPadding": 4, "labelAlign": "left", "labelBaseline": "middle", "labelOverlap": false, "labelFlush": false, "title": null}},
  "detail": {"field": "k"}}},
{"data": {"name": "bands"},
 "mark": {"type": "line", "color": "#0000ff", "strokeWidth": 1, "clip": true},
 "encoding": {
  "x": {"field": "i", "type": "quantitative", "scale": {"domain": [-0.0625, 198.4375], "nice": false, "zero": false}, "axis": {"orient": "bottom", "values": [0,12,24,36,48,60,72,84,96,108,120,132,144], "labelExpr": "datum.value == 0 ? '18 Nov 2024' : datum.value == 12 ? '20 Nov 05:00' : datum.value == 24 ? '22 Nov 05:00' : datum.value == 36 ? '26 Nov 05:00' : datum.value == 48 ? '28 Nov 05:00' : datum.value == 60 ? '2 Dec 13:00' : datum.value == 72 ? '4 Dec 13:00' : datum.value == 84 ? '6 Dec 13:00' : datum.value == 96 ? '10 Dec 13:00' : datum.value == 108 ? '12 Dec 13:00' : datum.value == 120 ? '16 Dec 13:00' : datum.value == 132 ? '18 Dec 13:00' : '20 Dec 13:00'", "labelAlign": "left", "labelBaseline": "top", "labelPadding": 2, "tickSize": 4, "labelFlush": false, "labelOverlap": false, "title": null}},
  "y": {"field": "u", "type": "quantitative", "scale": {"domain": [2539.21, 2770.76], "nice": false, "zero": false}, "axis": {"orient": "right", "values": [2544.60, 2558.35, 2571.85, 2585.35, 2598.85, 2612.35, 2625.85, 2639.60, 2653.10, 2666.60, 2680.10, 2693.60, 2707.35, 2720.85, 2734.35, 2747.85, 2761.35], "format": ".2f", "tickSize": 4, "labelPadding": 4, "labelAlign": "left", "labelBaseline": "middle", "labelOverlap": false, "labelFlush": false, "title": null}}}},
{"data": {"name": "bands"},
 "mark": {"type": "line", "color": "#0000ff", "strokeWidth": 1, "clip": true},
 "encoding": {
  "x": {"field": "i", "type": "quantitative", "scale": {"domain": [-0.0625, 198.4375], "nice": false, "zero": false}, "axis": {"orient": "bottom", "values": [0,12,24,36,48,60,72,84,96,108,120,132,144], "labelExpr": "datum.value == 0 ? '18 Nov 2024' : datum.value == 12 ? '20 Nov 05:00' : datum.value == 24 ? '22 Nov 05:00' : datum.value == 36 ? '26 Nov 05:00' : datum.value == 48 ? '28 Nov 05:00' : datum.value == 60 ? '2 Dec 13:00' : datum.value == 72 ? '4 Dec 13:00' : datum.value == 84 ? '6 Dec 13:00' : datum.value == 96 ? '10 Dec 13:00' : datum.value == 108 ? '12 Dec 13:00' : datum.value == 120 ? '16 Dec 13:00' : datum.value == 132 ? '18 Dec 13:00' : '20 Dec 13:00'", "labelAlign": "left", "labelBaseline": "top", "labelPadding": 2, "tickSize": 4, "labelFlush": false, "labelOverlap": false, "title": null}},
  "y": {"field": "m", "type": "quantitative", "scale": {"domain": [2539.21, 2770.76], "nice": false, "zero": false}, "axis": {"orient": "right", "values": [2544.60, 2558.35, 2571.85, 2585.35, 2598.85, 2612.35, 2625.85, 2639.60, 2653.10, 2666.60, 2680.10, 2693.60, 2707.35, 2720.85, 2734.35, 2747.85, 2761.35], "format": ".2f", "tickSize": 4, "labelPadding": 4, "labelAlign": "left", "labelBaseline": "middle", "labelOverlap": false, "labelFlush": false, "title": null}}}},
{"data": {"name": "bands"},
 "mark": {"type": "line", "color": "#0000ff", "strokeWidth": 1, "clip": true},
 "encoding": {
  "x": {"field": "i", "type": "quantitative", "scale": {"domain": [-0.0625, 198.4375], "nice": false, "zero": false}, "axis": {"orient": "bottom", "values": [0,12,24,36,48,60,72,84,96,108,120,132,144], "labelExpr": "datum.value == 0 ? '18 Nov 2024' : datum.value == 12 ? '20 Nov 05:00' : datum.value == 24 ? '22 Nov 05:00' : datum.value == 36 ? '26 Nov 05:00' : datum.value == 48 ? '28 Nov 05:00' : datum.value == 60 ? '2 Dec 13:00' : datum.value == 72 ? '4 Dec 13:00' : datum.value == 84 ? '6 Dec 13:00' : datum.value == 96 ? '10 Dec 13:00' : datum.value == 108 ? '12 Dec 13:00' : datum.value == 120 ? '16 Dec 13:00' : datum.value == 132 ? '18 Dec 13:00' : '20 Dec 13:00'", "labelAlign": "left", "labelBaseline": "top", "labelPadding": 2, "tickSize": 4, "labelFlush": false, "labelOverlap": false, "title": null}},
  "y": {"field": "l", "type": "quantitative", "scale": {"domain": [2539.21, 2770.76], "nice": false, "zero": false}, "axis": {"orient": "right", "values": [2544.60, 2558.35, 2571.85, 2585.35, 2598.85, 2612.35, 2625.85, 2639.60, 2653.10, 2666.60, 2680.10, 2693.60, 2707.35, 2720.85, 2734.35, 2747.85, 2761.35], "format": ".2f", "tickSize": 4, "labelPadding": 4, "labelAlign": "left", "labelBaseline": "middle", "labelOverlap": false, "labelFlush": false, "title": null}}}},
{"data": {"name": "candles"},
 "mark": {"type": "rule", "color": "#0000ff", "strokeWidth": 1},
 "encoding": {
  "x": {"field": "i", "type": "quantitative", "scale": {"domain": [-0.0625, 198.4375], "nice": false, "zero": false}, "axis": {"orient": "bottom", "values": [0,12,24,36,48,60,72,84,96,108,120,132,144], "labelExpr": "datum.value == 0 ? '18 Nov 2024' : datum.value == 12 ? '20 Nov 05:00' : datum.value == 24 ? '22 Nov 05:00' : datum.value == 36 ? '26 Nov 05:00' : datum.value == 48 ? '28 Nov 05:00' : datum.value == 60 ? '2 Dec 13:00' : datum.value == 72 ? '4 Dec 13:00' : datum.value == 84 ? '6 Dec 13:00' : datum.value == 96 ? '10 Dec 13:00' : datum.value == 108 ? '12 Dec 13:00' : datum.value == 120 ? '16 Dec 13:00' : datum.value == 132 ? '18 Dec 13:00' : '20 Dec 13:00'", "labelAlign": "left", "labelBaseline": "top", "labelPadding": 2, "tickSize": 4, "labelFlush": false, "labelOverlap": false, "title": null}},
  "y": {"field": "l", "type": "quantitative", "scale": {"domain": [2539.21, 2770.76], "nice": false, "zero": false}, "axis": {"orient": "right", "values": [2544.60, 2558.35, 2571.85, 2585.35, 2598.85, 2612.35, 2625.85, 2639.60, 2653.10, 2666.60, 2680.10, 2693.60, 2707.35, 2720.85, 2734.35, 2747.85, 2761.35], "format": ".2f", "tickSize": 4, "labelPadding": 4, "labelAlign": "left", "labelBaseline": "middle", "labelOverlap": false, "labelFlush": false, "title": null}},
  "y2": {"field": "h"}}},
{"data": {"name": "candles"},
 "mark": {"type": "bar", "width": 4, "stroke": "#0000ff", "strokeWidth": 1},
 "encoding": {
  "x": {"field": "i", "type": "quantitative", "scale": {"domain": [-0.0625, 198.4375], "nice": false, "zero": false}, "axis": {"orient": "bottom", "values": [0,12,24,36,48,60,72,84,96,108,120,132,144], "labelExpr": "datum.value == 0 ? '18 Nov 2024' : datum.value == 12 ? '20 Nov 05:00' : datum.value == 24 ? '22 Nov 05:00' : datum.value == 36 ? '26 Nov 05:00' : datum.value == 48 ? '28 Nov 05:00' : datum.value == 60 ? '2 Dec 13:00' : datum.value == 72 ? '4 Dec 13:00' : datum.value == 84 ? '6 Dec 13:00' : datum.value == 96 ? '10 Dec 13:00' : datum.value == 108 ? '12 Dec 13:00' : datum.value == 120 ? '16 Dec 13:00' : datum.value == 132 ? '18 Dec 13:00' : '20 Dec 13:00'", "labelAlign": "left", "labelBaseline": "top", "labelPadding": 2, "tickSize": 4, "labelFlush": false, "labelOverlap": false, "title": null}},
  "y": {"field": "o", "type": "quantitative", "scale": {"domain": [2539.21, 2770.76], "nice": false, "zero": false}, "axis": {"orient": "right", "values": [2544.60, 2558.35, 2571.85, 2585.35, 2598.85, 2612.35, 2625.85, 2639.60, 2653.10, 2666.60, 2680.10, 2693.60, 2707.35, 2720.85, 2734.35, 2747.85, 2761.35], "format": ".2f", "tickSize": 4, "labelPadding": 4, "labelAlign": "left", "labelBaseline": "middle", "labelOverlap": false, "labelFlush": false, "title": null}},
  "y2": {"field": "c"},
  "fill": {"condition": {"test": "datum.c >= datum.o", "value": "#32cd32"}, "value": "#ff0000"}}},
{"data": {"values": [{"x1": 156.0, "y1": 2625.44, "x2": 163.9, "y2": 2658.72}, {"x1": 163.9, "y1": 2658.72, "x2": 161.0, "y2": 2651.72}, {"x1": 163.9, "y1": 2658.72, "x2": 162.9, "y2": 2648.95}]},
 "mark": {"type": "rule", "color": "#ff0000", "strokeWidth": 2},
 "encoding": {
  "x": {"field": "x1", "type": "quantitative", "scale": {"domain": [-0.0625, 198.4375], "nice": false, "zero": false}, "axis": {"orient": "bottom", "values": [0,12,24,36,48,60,72,84,96,108,120,132,144], "labelExpr": "datum.value == 0 ? '18 Nov 2024' : datum.value == 12 ? '20 Nov 05:00' : datum.value == 24 ? '22 Nov 05:00' : datum.value == 36 ? '26 Nov 05:00' : datum.value == 48 ? '28 Nov 05:00' : datum.value == 60 ? '2 Dec 13:00' : datum.value == 72 ? '4 Dec 13:00' : datum.value == 84 ? '6 Dec 13:00' : datum.value == 96 ? '10 Dec 13:00' : datum.value == 108 ? '12 Dec 13:00' : datum.value == 120 ? '16 Dec 13:00' : datum.value == 132 ? '18 Dec 13:00' : '20 Dec 13:00'", "labelAlign": "left", "labelBaseline": "top", "labelPadding": 2, "tickSize": 4, "labelFlush": false, "labelOverlap": false, "title": null}},
  "x2": {"field": "x2"},
  "y": {"field": "y1", "type": "quantitative", "scale": {"domain": [2539.21, 2770.76], "nice": false, "zero": false}, "axis": {"orient": "right", "values": [2544.60, 2558.35, 2571.85, 2585.35, 2598.85, 2612.35, 2625.85, 2639.60, 2653.10, 2666.60, 2680.10, 2693.60, 2707.35, 2720.85, 2734.35, 2747.85, 2761.35], "format": ".2f", "tickSize": 4, "labelPadding": 4, "labelAlign": "left", "labelBaseline": "middle", "labelOverlap": false, "labelFlush": false, "title": null}},
  "y2": {"field": "y2"}}},
{"data": {"values": [{"x1": 168.1, "x2": 169.35, "y": 2649.8}, {"x1": 168.1, "x2": 169.35, "y": 2595.0}]},
 "mark": {"type": "rule", "color": "#000000", "strokeWidth": 1},
 "encoding": {
  "x": {"field": "x1", "type": "quantitative", "scale": {"domain": [-0.0625, 198.4375], "nice": false, "zero": false}, "axis": {"orient": "bottom", "values": [0,12,24,36,48,60,72,84,96,108,120,132,144], "labelExpr": "datum.value == 0 ? '18 Nov 2024' : datum.value == 12 ? '20 Nov 05:00' : datum.value == 24 ? '22 Nov 05:00' : datum.value == 36 ? '26 Nov 05:00' : datum.value == 48 ? '28 Nov 05:00' : datum.value == 60 ? '2 Dec 13:00' : datum.value == 72 ? '4 Dec 13:00' : datum.value == 84 ? '6 Dec 13:00' : datum.value == 96 ? '10 Dec 13:00' : datum.value == 108 ? '12 Dec 13:00' : datum.value == 120 ? '16 Dec 13:00' : datum.value == 132 ? '18 Dec 13:00' : '20 Dec 13:00'", "labelAlign": "left", "labelBaseline": "top", "labelPadding": 2, "tickSize": 4, "labelFlush": false, "labelOverlap": false, "title": null}},
  "x2": {"field": "x2"},
  "y": {"field": "y", "type": "quantitative", "scale": {"domain": [2539.21, 2770.76], "nice": false, "zero": false}, "axis": {"orient": "right", "values": [2544.60, 2558.35, 2571.85, 2585.35, 2598.85, 2612.35, 2625.85, 2639.60, 2653.10, 2666.60, 2680.10, 2693.60, 2707.35, 2720.85, 2734.35, 2747.85, 2761.35], "format": ".2f", "tickSize": 4, "labelPadding": 4, "labelAlign": "left", "labelBaseline": "middle", "labelOverlap": false, "labelFlush": false, "title": null}}}},
{"data": {"values": [{"x1": 169.35, "x2": 184.23, "y1": 2644.15, "y2": 2655.21}, {"x1": 169.35, "x2": 184.23, "y1": 2589.21, "y2": 2600.27}]},
 "mark": {"type": "rect", "fill": "#ffffff", "stroke": "#000000", "strokeWidth": 1},
 "encoding": {
  "x": {"field": "x1", "type": "quantitative", "scale": {"domain": [-0.0625, 198.4375], "nice": false, "zero": false}, "axis": {"orient": "bottom", "values": [0,12,24,36,48,60,72,84,96,108,120,132,144], "labelExpr": "datum.value == 0 ? '18 Nov 2024' : datum.value == 12 ? '20 Nov 05:00' : datum.value == 24 ? '22 Nov 05:00' : datum.value == 36 ? '26 Nov 05:00' : datum.value == 48 ? '28 Nov 05:00' : datum.value == 60 ? '2 Dec 13:00' : datum.value == 72 ? '4 Dec 13:00' : datum.value == 84 ? '6 Dec 13:00' : datum.value == 96 ? '10 Dec 13:00' : datum.value == 108 ? '12 Dec 13:00' : datum.value == 120 ? '16 Dec 13:00' : datum.value == 132 ? '18 Dec 13:00' : '20 Dec 13:00'", "labelAlign": "left", "labelBaseline": "top", "labelPadding": 2, "tickSize": 4, "labelFlush": false, "labelOverlap": false, "title": null}},
  "x2": {"field": "x2"},
  "y": {"field": "y1", "type": "quantitative", "scale": {"domain": [2539.21, 2770.76], "nice": false, "zero": false}, "axis": {"orient": "right", "values": [2544.60, 2558.35, 2571.85, 2585.35, 2598.85, 2612.35, 2625.85, 2639.60, 2653.10, 2666.60, 2680.10, 2693.60, 2707.35, 2720.85, 2734.35, 2747.85, 2761.35], "format": ".2f", "tickSize": 4, "labelPadding": 4, "labelAlign": "left", "labelBaseline": "middle", "labelOverlap": false, "labelFlush": false, "title": null}},
  "y2": {"field": "y2"}}},
{"data": {"values": [{"x": 176.79, "y": 2649.68, "t": "2650.00"}, {"x": 176.79, "y": 2594.74, "t": "2595.00"}]},
 "mark": {"type": "text", "font": "Liberation Sans", "fontSize": 32, "color": "#000000", "align": "center", "baseline": "middle"},
 "encoding": {
  "x": {"field": "x", "type": "quantitative", "scale": {"domain": [-0.0625, 198.4375], "nice": false, "zero": false}, "axis": {"orient": "bottom", "values": [0,12,24,36,48,60,72,84,96,108,120,132,144], "labelExpr": "datum.value == 0 ? '18 Nov 2024' : datum.value == 12 ? '20 Nov 05:00' : datum.value == 24 ? '22 Nov 05:00' : datum.value == 36 ? '26 Nov 05:00' : datum.value == 48 ? '28 Nov 05:00' : datum.value == 60 ? '2 Dec 13:00' : datum.value == 72 ? '4 Dec 13:00' : datum.value == 84 ? '6 Dec 13:00' : datum.value == 96 ? '10 Dec 13:00' : datum.value == 108 ? '12 Dec 13:00' : datum.value == 120 ? '16 Dec 13:00' : datum.value == 132 ? '18 Dec 13:00' : '20 Dec 13:00'", "labelAlign": "left", "labelBaseline": "top", "labelPadding": 2, "tickSize": 4, "labelFlush": false, "labelOverlap": false, "title": null}},
  "y": {"field": "y", "type": "quantitative", "scale": {"domain": [2539.21, 2770.76], "nice": false, "zero": false}, "axis": {"orient": "right", "values": [2544.60, 2558.35, 2571.85, 2585.35, 2598.85, 2612.35, 2625.85, 2639.60, 2653.10, 2666.60, 2680.10, 2693.60, 2707.35, 2720.85, 2734.35, 2747.85, 2761.35], "format": ".2f", "tickSize": 4, "labelPadding": 4, "labelAlign": "left", "labelBaseline": "middle", "labelOverlap": false, "labelFlush": false, "title": null}},
  "text": {"field": "t"}}},
{"data": {"values": [{"x": 138.9, "y": 2570.62, "t": "Hammer"}, {"x": 151.96, "y": 2593.64, "t": "Harami"}]},
 "mark": {"type": "text", "font": "Liberation Serif", "fontSize": 33, "color": "#000000", "align": "center", "baseline": "alphabetic"},
 "encoding": {
  "x": {"field": "x", "type": "quantitative", "scale": {"domain": [-0.0625, 198.4375], "nice": false, "zero": false}, "axis": {"orient": "bottom", "values": [0,12,24,36,48,60,72,84,96,108,120,132,144], "labelExpr": "datum.value == 0 ? '18 Nov 2024' : datum.value == 12 ? '20 Nov 05:00' : datum.value == 24 ? '22 Nov 05:00' : datum.value == 36 ? '26 Nov 05:00' : datum.value == 48 ? '28 Nov 05:00' : datum.value == 60 ? '2 Dec 13:00' : datum.value == 72 ? '4 Dec 13:00' : datum.value == 84 ? '6 Dec 13:00' : datum.value == 96 ? '10 Dec 13:00' : datum.value == 108 ? '12 Dec 13:00' : datum.value == 120 ? '16 Dec 13:00' : datum.value == 132 ? '18 Dec 13:00' : '20 Dec 13:00'", "labelAlign": "left", "labelBaseline": "top", "labelPadding": 2, "tickSize": 4, "labelFlush": false, "labelOverlap": false, "title": null}},
  "y": {"field": "y", "type": "quantitative", "scale": {"domain": [2539.21, 2770.76], "nice": false, "zero": false}, "axis": {"orient": "right", "values": [2544.60, 2558.35, 2571.85, 2585.35, 2598.85, 2612.35, 2625.85, 2639.60, 2653.10, 2666.60, 2680.10, 2693.60, 2707.35, 2720.85, 2734.35, 2747.85, 2761.35], "format": ".2f", "tickSize": 4, "labelPadding": 4, "labelAlign": "left", "labelBaseline": "middle", "labelOverlap": false, "labelFlush": false, "title": null}},
  "text": {"field": "t"}}},
{"data": {"values": [{"x": 138.94, "y": 2581.41}, {"x": 151.86, "y": 2603.9}]},
 "mark": {"type": "point", "shape": "M0,-1L0.78,-0.15L0.36,-0.15L0.36,1L-0.36,1L-0.36,-0.15L-0.78,-0.15Z", "size": 462, "filled": true, "fill": "#ffffff", "stroke": "#000000", "strokeWidth": 1.5, "opacity": 1},
 "encoding": {
  "x": {"field": "x", "type": "quantitative", "scale": {"domain": [-0.0625, 198.4375], "nice": false, "zero": false}, "axis": {"orient": "bottom", "values": [0,12,24,36,48,60,72,84,96,108,120,132,144], "labelExpr": "datum.value == 0 ? '18 Nov 2024' : datum.value == 12 ? '20 Nov 05:00' : datum.value == 24 ? '22 Nov 05:00' : datum.value == 36 ? '26 Nov 05:00' : datum.value == 48 ? '28 Nov 05:00' : datum.value == 60 ? '2 Dec 13:00' : datum.value == 72 ? '4 Dec 13:00' : datum.value == 84 ? '6 Dec 13:00' : datum.value == 96 ? '10 Dec 13:00' : datum.value == 108 ? '12 Dec 13:00' : datum.value == 120 ? '16 Dec 13:00' : datum.value == 132 ? '18 Dec 13:00' : '20 Dec 13:00'", "labelAlign": "left", "labelBaseline": "top", "labelPadding": 2, "tickSize": 4, "labelFlush": false, "labelOverlap": false, "title": null}},
  "y": {"field": "y", "type": "quantitative", "scale": {"domain": [2539.21, 2770.76], "nice": false, "zero": false}, "axis": {"orient": "right", "values": [2544.60, 2558.35, 2571.85, 2585.35, 2598.85, 2612.35, 2625.85, 2639.60, 2653.10, 2666.60, 2680.10, 2693.60, 2707.35, 2720.85, 2734.35, 2747.85, 2761.35], "format": ".2f", "tickSize": 4, "labelPadding": 4, "labelAlign": "left", "labelBaseline": "middle", "labelOverlap": false, "labelFlush": false, "title": null}}}},
{"data": {"values": [{"x": 0.56, "y": 2768.27, "t": "▼"}]},
 "mark": {"type": "text", "font": "DejaVu Sans", "fontSize": 8, "color": "#000000", "align": "center", "baseline": "middle"},
 "encoding": {
  "x": {"field": "x", "type": "quantitative", "scale": {"domain": [-0.0625, 198.4375], "nice": false, "zero": false}, "axis": {"orient": "bottom", "values": [0,12,24,36,48,60,72,84,96,108,120,132,144], "labelExpr": "datum.value == 0 ? '18 Nov 2024' : datum.value == 12 ? '20 Nov 05:00' : datum.value == 24 ? '22 Nov 05:00' : datum.value == 36 ? '26 Nov 05:00' : datum.value == 48 ? '28 Nov 05:00' : datum.value == 60 ? '2 Dec 13:00' : datum.value == 72 ? '4 Dec 13:00' : datum.value == 84 ? '6 Dec 13:00' : datum.value == 96 ? '10 Dec 13:00' : datum.value == 108 ? '12 Dec 13:00' : datum.value == 120 ? '16 Dec 13:00' : datum.value == 132 ? '18 Dec 13:00' : '20 Dec 13:00'", "labelAlign": "left", "labelBaseline": "top", "labelPadding": 2, "tickSize": 4, "labelFlush": false, "labelOverlap": false, "title": null}},
  "y": {"field": "y", "type": "quantitative", "scale": {"domain": [2539.21, 2770.76], "nice": false, "zero": false}, "axis": {"orient": "right", "values": [2544.60, 2558.35, 2571.85, 2585.35, 2598.85, 2612.35, 2625.85, 2639.60, 2653.10, 2666.60, 2680.10, 2693.60, 2707.35, 2720.85, 2734.35, 2747.85, 2761.35], "format": ".2f", "tickSize": 4, "labelPadding": 4, "labelAlign": "left", "labelBaseline": "middle", "labelOverlap": false, "labelFlush": false, "title": null}},
  "text": {"field": "t"}}},
{"data": {"values": [{"x": 2.15, "y": 2768.27, "t": "XAUUSD,H4\u00a0\u00a02616.84 2621.40 2615.52 2619.22"}]},
 "mark": {"type": "text", "font": "DejaVu Sans", "fontSize": 11, "color": "#000000", "align": "left", "baseline": "middle"},
 "encoding": {
  "x": {"field": "x", "type": "quantitative", "scale": {"domain": [-0.0625, 198.4375], "nice": false, "zero": false}, "axis": {"orient": "bottom", "values": [0,12,24,36,48,60,72,84,96,108,120,132,144], "labelExpr": "datum.value == 0 ? '18 Nov 2024' : datum.value == 12 ? '20 Nov 05:00' : datum.value == 24 ? '22 Nov 05:00' : datum.value == 36 ? '26 Nov 05:00' : datum.value == 48 ? '28 Nov 05:00' : datum.value == 60 ? '2 Dec 13:00' : datum.value == 72 ? '4 Dec 13:00' : datum.value == 84 ? '6 Dec 13:00' : datum.value == 96 ? '10 Dec 13:00' : datum.value == 108 ? '12 Dec 13:00' : datum.value == 120 ? '16 Dec 13:00' : datum.value == 132 ? '18 Dec 13:00' : '20 Dec 13:00'", "labelAlign": "left", "labelBaseline": "top", "labelPadding": 2, "tickSize": 4, "labelFlush": false, "labelOverlap": false, "title": null}},
  "y": {"field": "y", "type": "quantitative", "scale": {"domain": [2539.21, 2770.76], "nice": false, "zero": false}, "axis": {"orient": "right", "values": [2544.60, 2558.35, 2571.85, 2585.35, 2598.85, 2612.35, 2625.85, 2639.60, 2653.10, 2666.60, 2680.10, 2693.60, 2707.35, 2720.85, 2734.35, 2747.85, 2761.35], "format": ".2f", "tickSize": 4, "labelPadding": 4, "labelAlign": "left", "labelBaseline": "middle", "labelOverlap": false, "labelFlush": false, "title": null}},
  "text": {"field": "t"}}},
{"data": {"values": [{"x1": 198.81, "x2": 205.44, "y1": 2617.51, "y2": 2621.10}]},
 "mark": {"type": "rect", "color": "#000000"},
 "encoding": {
  "x": {"field": "x1", "type": "quantitative", "scale": {"domain": [-0.0625, 198.4375], "nice": false, "zero": false}, "axis": {"orient": "bottom", "values": [0,12,24,36,48,60,72,84,96,108,120,132,144], "labelExpr": "datum.value == 0 ? '18 Nov 2024' : datum.value == 12 ? '20 Nov 05:00' : datum.value == 24 ? '22 Nov 05:00' : datum.value == 36 ? '26 Nov 05:00' : datum.value == 48 ? '28 Nov 05:00' : datum.value == 60 ? '2 Dec 13:00' : datum.value == 72 ? '4 Dec 13:00' : datum.value == 84 ? '6 Dec 13:00' : datum.value == 96 ? '10 Dec 13:00' : datum.value == 108 ? '12 Dec 13:00' : datum.value == 120 ? '16 Dec 13:00' : datum.value == 132 ? '18 Dec 13:00' : '20 Dec 13:00'", "labelAlign": "left", "labelBaseline": "top", "labelPadding": 2, "tickSize": 4, "labelFlush": false, "labelOverlap": false, "title": null}},
  "x2": {"field": "x2"},
  "y": {"field": "y1", "type": "quantitative", "scale": {"domain": [2539.21, 2770.76], "nice": false, "zero": false}, "axis": {"orient": "right", "values": [2544.60, 2558.35, 2571.85, 2585.35, 2598.85, 2612.35, 2625.85, 2639.60, 2653.10, 2666.60, 2680.10, 2693.60, 2707.35, 2720.85, 2734.35, 2747.85, 2761.35], "format": ".2f", "tickSize": 4, "labelPadding": 4, "labelAlign": "left", "labelBaseline": "middle", "labelOverlap": false, "labelFlush": false, "title": null}},
  "y2": {"field": "y2"}}},
{"data": {"values": [{"x": 199.44, "y": 2619.22, "t": "2619.22"}]},
 "mark": {"type": "text", "font": "DejaVu Sans", "fontSize": 11, "color": "#ffffff", "align": "left", "baseline": "middle"},
 "encoding": {
  "x": {"field": "x", "type": "quantitative", "scale": {"domain": [-0.0625, 198.4375], "nice": false, "zero": false}, "axis": {"orient": "bottom", "values": [0,12,24,36,48,60,72,84,96,108,120,132,144], "labelExpr": "datum.value == 0 ? '18 Nov 2024' : datum.value == 12 ? '20 Nov 05:00' : datum.value == 24 ? '22 Nov 05:00' : datum.value == 36 ? '26 Nov 05:00' : datum.value == 48 ? '28 Nov 05:00' : datum.value == 60 ? '2 Dec 13:00' : datum.value == 72 ? '4 Dec 13:00' : datum.value == 84 ? '6 Dec 13:00' : datum.value == 96 ? '10 Dec 13:00' : datum.value == 108 ? '12 Dec 13:00' : datum.value == 120 ? '16 Dec 13:00' : datum.value == 132 ? '18 Dec 13:00' : '20 Dec 13:00'", "labelAlign": "left", "labelBaseline": "top", "labelPadding": 2, "tickSize": 4, "labelFlush": false, "labelOverlap": false, "title": null}},
  "y": {"field": "y", "type": "quantitative", "scale": {"domain": [2539.21, 2770.76], "nice": false, "zero": false}, "axis": {"orient": "right", "values": [2544.60, 2558.35, 2571.85, 2585.35, 2598.85, 2612.35, 2625.85, 2639.60, 2653.10, 2666.60, 2680.10, 2693.60, 2707.35, 2720.85, 2734.35, 2747.85, 2761.35], "format": ".2f", "tickSize": 4, "labelPadding": 4, "labelAlign": "left", "labelBaseline": "middle", "labelOverlap": false, "labelFlush": false, "title": null}},
  "text": {"field": "t"}}}
]
}
